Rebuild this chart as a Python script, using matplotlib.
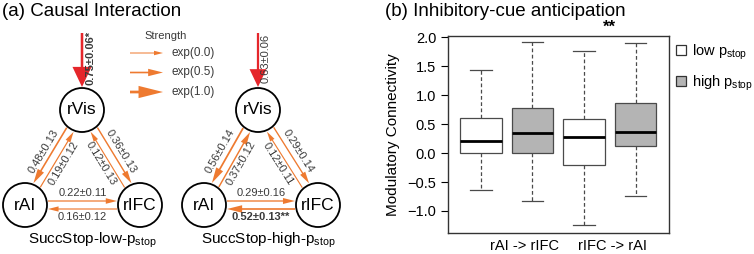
import numpy as np
import matplotlib
matplotlib.use("Agg")
import matplotlib.pyplot as plt
from matplotlib.patches import Circle, Patch

plt.rcParams["font.family"] = ["Liberation Sans", "DejaVu Sans"]
plt.rcParams["mathtext.fontset"] = "custom"
plt.rcParams["mathtext.rm"] = "Liberation Sans"
plt.rcParams["mathtext.it"] = "Liberation Sans:italic"

# ================================
# DATA
# ================================
nodes = ["rVis", "rAI", "rIFC"]
edge_src = ["rVis", "rAI", "rVis", "rIFC", "rAI", "rIFC"]
edge_dst = ["rAI", "rVis", "rIFC", "rVis", "rIFC", "rAI"]

low_mean = [0.48, 0.19, 0.36, 0.12, 0.22, 0.16]
low_sd = [0.13, 0.12, 0.13, 0.13, 0.11, 0.12]
low_sig = ["", "", "", "", "", ""]

high_mean = [0.56, 0.37, 0.29, 0.12, 0.29, 0.52]
high_sd = [0.14, 0.12, 0.14, 0.11, 0.16, 0.13]
high_sig = ["", "", "", "", "", "**"]

input_mean = [0.75, 0.63]
input_sd = [0.06, 0.06]
input_sig = ["*", ""]

legend_strength = [0.0, 0.5, 1.0]

box_groups = ["rAI -> rIFC", "rIFC -> rAI"]
box_conditions = ["low", "high", "low", "high"]
box_whislo = [-0.64, -0.83, -1.25, -0.74]
box_q1 = [0.0, 0.0, -0.21, 0.12]
box_med = [0.21, 0.35, 0.27, 0.37]
box_q3 = [0.61, 0.78, 0.59, 0.86]
box_whishi = [1.43, 1.91, 1.76, 1.90]

# ================================
# STYLE / LAYOUT
# ================================
ORANGE = "#EE7A30"
RED = "#E5262B"
TXT = "#3A3A3A"
R = 22
nets = [
    {"pos": {"rVis": (82, 110), "rAI": (25, 205), "rIFC": (140, 205)},
     "mean": low_mean, "sd": low_sd, "sig": low_sig,
     "label": r"SuccStop-low-p$_{\rm stop}$"},
    {"pos": {"rVis": (258, 110), "rAI": (204, 205), "rIFC": (318, 205)},
     "mean": high_mean, "sd": high_sd, "sig": high_sig,
     "label": r"SuccStop-high-p$_{\rm stop}$"},
]
# +1 = outer side of the triangle, -1 = inner side
edge_side = [1, -1, 1, -1, -1, 1]

fig = plt.figure(figsize=(7.54, 2.54), dpi=100)

# ================================
# (a) network panel, pixel coords
# ================================
ax = fig.add_axes([0, 0, 380 / 754, 1])
ax.set_xlim(0, 380)
ax.set_ylim(254, 0)
ax.axis("off")


def draw_arrow(x0, y0, x1, y1, s, color=ORANGE, lw=1.0, hw=4.5, hl=9.0):
    ax.arrow(x0, y0, x1 - x0, y1 - y0, width=lw * s, head_width=hw * s,
             head_length=hl * s, length_includes_head=True,
             color=color, lw=0, zorder=3)


ax.text(2, 12, "(a) Causal Interaction", fontsize=13.5, va="center", ha="left")

for k, net in enumerate(nets):
    pos = net["pos"]
    cx = np.mean([p[0] for p in pos.values()])
    cy = np.mean([p[1] for p in pos.values()])

    for name in nodes:
        x, y = pos[name]
        ax.add_patch(Circle((x, y), R, fc="white", ec="black", lw=1.3, zorder=4))
        ax.text(x, y, name, fontsize=12.5, ha="center", va="center", zorder=5)

    for i in range(len(edge_src)):
        ux, uy = pos[edge_src[i]]
        vx, vy = pos[edge_dst[i]]
        d = np.array([vx - ux, vy - uy], float)
        d /= np.hypot(*d)
        n = np.array([-d[1], d[0]])
        mx, my = (ux + vx) / 2, (uy + vy) / 2
        # make normal point outward
        if n[0] * (mx - cx) + n[1] * (my - cy) < 0:
            n = -n
        off = 4.0 * edge_side[i]
        p0 = np.array([ux, uy]) + d * (R + 1) + n * off
        p1 = np.array([vx, vy]) - d * (R + 1) + n * off
        s = np.exp(net["mean"][i])
        draw_arrow(p0[0], p0[1], p1[0], p1[1], s)

        ang = np.degrees(np.arctan2(-(vy - uy), vx - ux))
        if ang > 90:
            ang -= 180
        elif ang <= -90:
            ang += 180
        tp = np.array([mx, my]) + n * 12 * edge_side[i]
        lab = f"{net['mean'][i]:.2f}\u00b1{net['sd'][i]:.2f}{net['sig'][i]}"
        ax.text(tp[0], tp[1], lab, fontsize=8, color=TXT, rotation=ang,
                rotation_mode="anchor", ha="center", va="center",
                fontweight="bold" if net["sig"][i] else "normal")

    # driving input into rVis
    x, y = pos["rVis"]
    s = np.exp(input_mean[k])
    draw_arrow(x, 33, x, y - R - 1, s, color=RED, lw=1.2, hw=9.0, hl=9.5)
    lab = f"{input_mean[k]:.2f}\u00b1{input_sd[k]:.2f}{input_sig[k]}"
    ax.text(x + 8, 58, lab, fontsize=8, color=TXT, rotation=90,
            ha="center", va="center",
            fontweight="bold" if input_sig[k] else "normal")

    ax.text(pos["rVis"][0] + 10, 240, net["label"], fontsize=11,
            ha="center", va="center")

# strength legend
ax.text(166, 36, "Strength", fontsize=8, ha="center", va="center", color=TXT)
for j, v in enumerate(legend_strength):
    yy = 53 + 19.5 * j
    draw_arrow(130, yy, 163, yy, np.exp(v))
    ax.text(172, yy, f"exp({v:.1f})", fontsize=8.5, ha="left", va="center",
            color=TXT)

# ================================
# (b) boxplot panel
# ================================
bx = fig.add_axes([448 / 754, 21 / 254, 221 / 754, 197 / 254])
stats = []
for i in range(len(box_med)):
    stats.append({"whislo": box_whislo[i], "q1": box_q1[i], "med": box_med[i],
                  "q3": box_q3[i], "whishi": box_whishi[i], "fliers": []})
fills = ["white" if c == "low" else "#B4B4B4" for c in box_conditions]
bp = bx.bxp(stats, positions=[1, 2, 3, 4], widths=0.8, patch_artist=True,
            showfliers=False,
            boxprops=dict(edgecolor="#4A4A4A", lw=0.9),
            medianprops=dict(color="black", lw=2),
            whiskerprops=dict(color="#4A4A4A", lw=0.9, ls=(0, (3, 2))),
            capprops=dict(color="#4A4A4A", lw=0.9))
for patch, fc in zip(bp["boxes"], fills):
    patch.set_facecolor(fc)
for c in bp["caps"]:
    mid = np.mean(c.get_xdata())
    c.set_xdata([mid - 0.21, mid + 0.21])

ticks = np.arange(-1.0, 2.01, 0.5)
bx.set_xlim(0.36, 4.65)
bx.set_ylim(-1.38, 2.02)
bx.set_yticks(ticks)
bx.set_yticklabels([f"{t:.1f}".replace("-", "\u2212") for t in ticks])
bx.set_xticks([1.85, 3.55])
bx.set_xticklabels(box_groups)
bx.tick_params(axis="x", length=0, labelsize=10.5, pad=4)
bx.tick_params(axis="y", labelsize=10.5, length=5)
bx.set_ylabel("Modulatory Connectivity", fontsize=11, labelpad=5)
for sp in bx.spines.values():
    sp.set_linewidth(1.0)
    sp.set_color("#333333")
bx.text(3.5, 1.045, "**", transform=bx.get_xaxis_transform(), fontsize=12,
        fontweight="bold", ha="center", va="center")
fig.text(385 / 754, 1 - 12 / 254, "(b) Inhibitory-cue anticipation",
         fontsize=13.5, ha="left", va="center")

handles = [Patch(fc="white", ec="#333333", lw=0.9),
           Patch(fc="#B4B4B4", ec="#333333", lw=0.9)]
bx.legend(handles, [r"low p$_{\rm stop}$", r"high p$_{\rm stop}$"],
          loc="upper left", bbox_to_anchor=(0.985, 1.02), frameon=False,
          handlelength=0.7, handleheight=0.7, handletextpad=0.4,
          fontsize=10.5, labelspacing=0.8, borderaxespad=0.3)

fig.savefig("out.png", dpi=100)
